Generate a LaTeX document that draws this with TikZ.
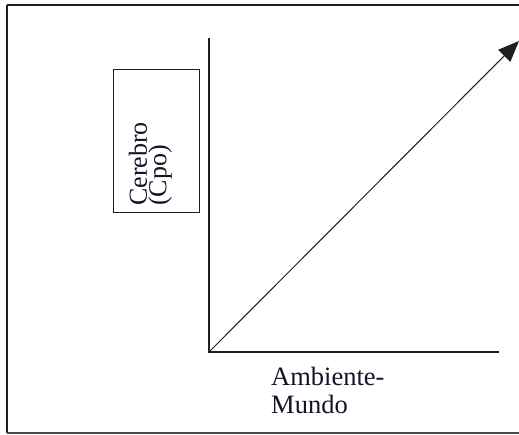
\documentclass[tikz,border=0pt]{standalone}
\usepackage{fontspec}
\setmainfont{Liberation Serif}
\usetikzlibrary{arrows.meta}
\definecolor{ink}{HTML}{1E1E1E}
\definecolor{txt}{HTML}{141428}
\begin{document}
\begin{tikzpicture}[x=1pt,y=-1pt,
  frame/.style={draw=ink,line width=2.6pt},
  axis/.style={draw=ink,line width=2.4pt},
  thin/.style={draw=ink,line width=1pt},
  lbl/.style={text=txt,font=\fontsize{26.5}{28}\selectfont,inner sep=0pt,align=left}]
\useasboundingbox (0,0) rectangle (519,434);
\draw[frame] (7,5) -- (530,5);
\draw[frame] (7,5) -- (7,433);
\draw[draw=ink!80,line width=1.6pt] (7,433) -- (530,433);
\coordinate (O) at (209,352);
\coordinate (ytop) at (209,38);
\coordinate (xend) at (499,352);
\coordinate (tip) at (519,41);
\draw[axis] (ytop) -- (O) -- (xend);
\draw[thin,-{Triangle[length=21pt,width=17pt]}] (O) -- (tip);
\node[thin,minimum width=86pt,minimum height=143pt,inner sep=0pt] (box) at (156,140.5) {};
\node[lbl,rotate=90,font=\fontsize{26}{17}\selectfont,anchor=south west] (cer) at (172,206) {Cerebro\\(Cpo)};
\node[lbl,anchor=north west] (amb) at (271,367) {Ambiente-\\Mundo};
\end{tikzpicture}
\end{document}
